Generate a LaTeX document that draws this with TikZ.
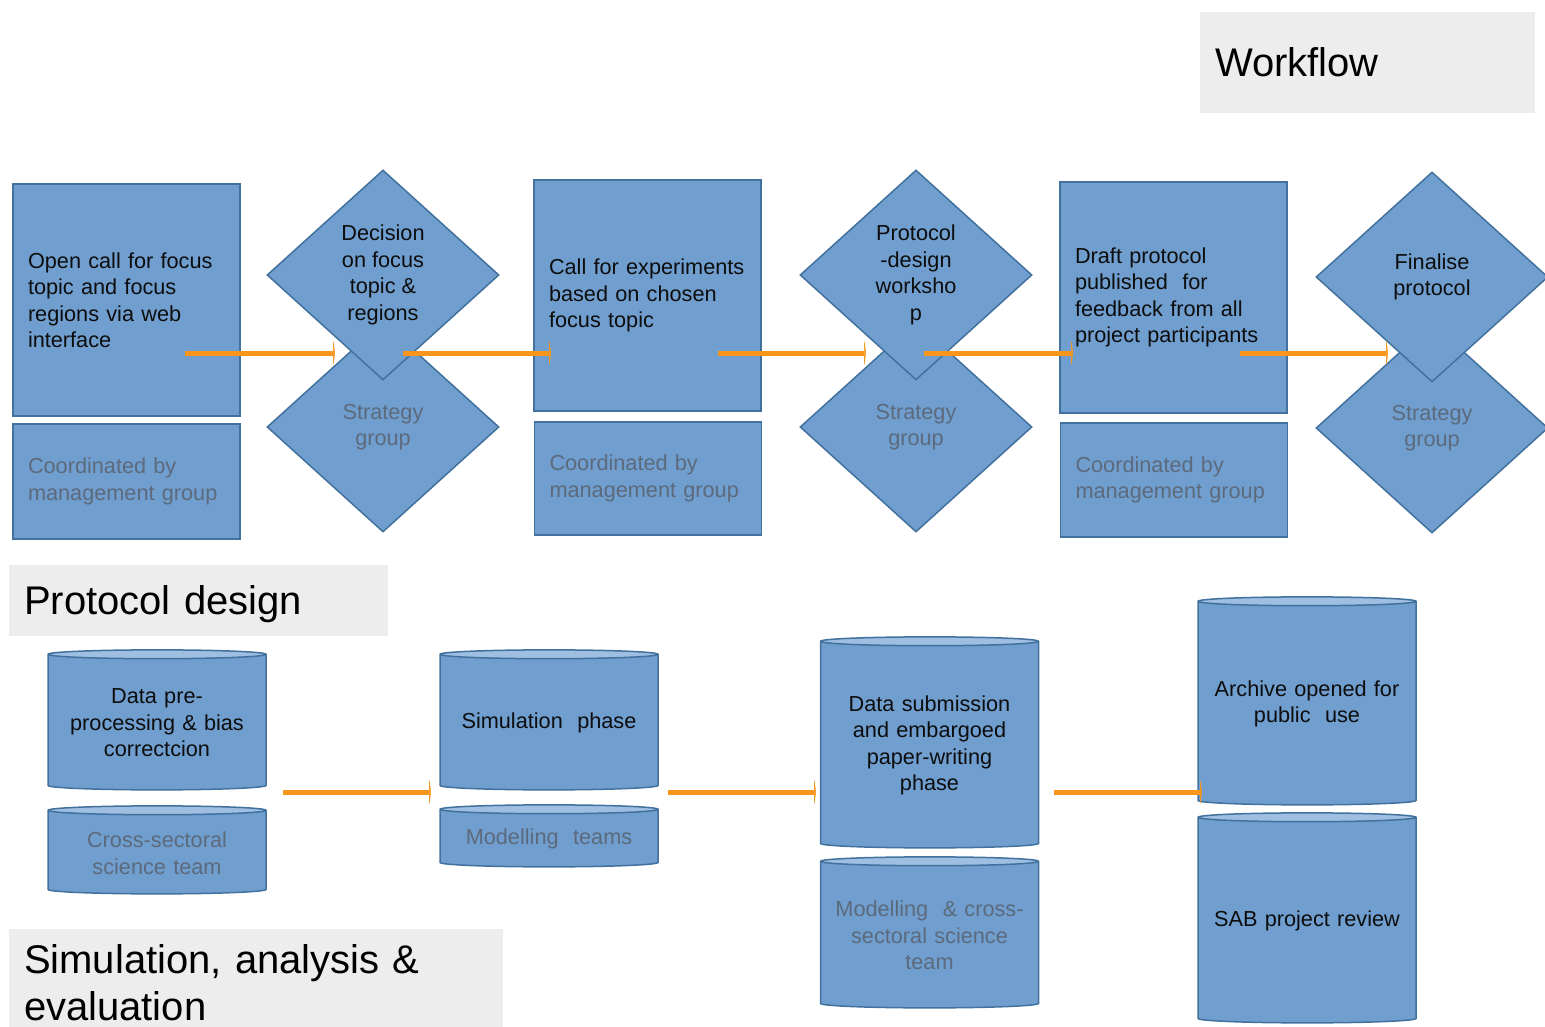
\documentclass[tikz,border=0pt]{standalone}
\usepackage{fontspec}
\setmainfont{Liberation Sans}
\usetikzlibrary{positioning,shapes,arrows.meta}
\definecolor{azul}{RGB}{112,158,207}
\definecolor{azulclaro}{RGB}{158,190,226}
\definecolor{borde}{RGB}{65,113,156}
\definecolor{naranja}{RGB}{248,150,28}
\definecolor{gristexto}{RGB}{92,106,124}
\definecolor{grisfondo}{RGB}{237,237,237}

\begin{document}
\begin{tikzpicture}[x=1pt, y=-1pt, semithick,
        texto/.style = {font=\fontsize{21.7}{26.5}\selectfont, text=black!95},
        main/.style = {texto, draw=borde, line width=1.5pt, fill=azul, rectangle, minimum width=227pt, text width=197pt, inner xsep=15pt, align=left},
        rombo/.style = {texto, draw=borde, line width=1.5pt, fill=azul, diamond, minimum width=232pt, minimum height=210pt, inner sep=0pt, align=center},
        cilindro/.style = {texto, draw=borde, line width=1.5pt, cylinder, shape border rotate=90, aspect=0.045, cylinder uses custom fill, cylinder body fill=azul, cylinder end fill=azulclaro, minimum width=218pt, text width=190pt, align=center},
        gris/.style = {text=gristexto},
        titulo/.style = {fill=grisfondo, font=\fontsize{40}{47}\selectfont, align=left, inner xsep=15pt},
        flecha/.style = {draw=naranja, line width=5pt, -{Triangle[length=2pt, width=30pt]}}]

        \useasboundingbox (0,0) rectangle (1545,1027);

        % titulos
        \node[titulo, minimum width=335pt, minimum height=101pt, text width=305pt] (t1) at (1367.5,62.5) {Workflow};
        \node[titulo, minimum width=379pt, minimum height=71pt, text width=349pt, text depth=0pt] (t2) at (198.5,600.5) {Protocol design};
        \node[titulo, minimum width=494pt, minimum height=108pt, text width=464pt] (t3) at (256,983) {Simulation, analysis \&\\ evaluation};

        % fila de arriba
        \node[main, minimum height=232pt] (1) at (126.5,300) {Open call for focus\\ topic and focus\\ regions via web\\ interface};
        \node[main, gris, minimum height=115pt] (2) at (126.5,481.5) {Coordinated by\\ management group};

        \node[rombo, gris] (4) at (383,427) {Strategy\\ group};
        \node[rombo] (3) at (383,275) {Decision\\ on focus\\ topic \&\\ regions};

        \node[main, minimum height=231pt] (5) at (647.5,295.5) {Call for experiments\\ based on chosen\\ focus topic};
        \node[main, gris, minimum height=113pt] (6) at (648,478.5) {Coordinated by\\ management group};

        \node[rombo, gris] (8) at (916,427) {Strategy\\ group};
        \node[rombo] (7) at (916,275) {Protocol\\ -design\\ worksho\\ p};

        \node[main, minimum height=231pt] (9) at (1173.5,297.5) {Draft protocol\\ published\ \ for\\ feedback from all\\ project participants};
        \node[main, gris, minimum height=114pt] (10) at (1174,480) {Coordinated by\\ management group};

        \node[rombo, gris] (12) at (1432,428) {Strategy\\ group};
        \node[rombo] (11) at (1432,277) {Finalise\\ protocol};

        % fila de abajo
        \node[cilindro, minimum height=140pt] (13) at (157,723) {Data pre-\\ processing \& bias\\ correctcion};
        \node[cilindro, gris, minimum height=88pt] (14) at (157,853) {Cross-sectoral\\ science team};

        \node[cilindro, minimum height=140pt] (15) at (549,723) {Simulation\ \ phase};
        \node[cilindro, gris, minimum height=62pt] (16) at (549,839) {Modelling\ \ teams};

        \node[cilindro, minimum height=211pt] (17) at (929.5,745.5) {Data submission\\ and embargoed\\ paper-writing\\ phase};
        \node[cilindro, gris, minimum height=151pt] (18) at (929.5,935.5) {Modelling\ \ \& cross-\\ sectoral science\\ team};

        \node[cilindro, minimum height=208pt] (19) at (1307,704) {Archive opened for\\ public\ \ use};
        \node[cilindro, minimum height=210pt] (20) at (1307,921) {SAB project review};

        % flechas
        \coordinate (a1) at (185,353);  \coordinate (b1) at (335,353);
        \coordinate (a2) at (403,353);  \coordinate (b2) at (551,353);
        \coordinate (a3) at (718,353);  \coordinate (b3) at (866,353);
        \coordinate (a4) at (924,353);  \coordinate (b4) at (1073,353);
        \coordinate (a5) at (1240,353); \coordinate (b5) at (1388,353);
        \coordinate (a6) at (283,792);  \coordinate (b6) at (431,792);
        \coordinate (a7) at (668,792);  \coordinate (b7) at (816,792);
        \coordinate (a8) at (1054,792); \coordinate (b8) at (1202,792);

        \draw[flecha] (a1) -- (b1);
        \draw[flecha] (a2) -- (b2);
        \draw[flecha] (a3) -- (b3);
        \draw[flecha] (a4) -- (b4);
        \draw[flecha] (a5) -- (b5);
        \draw[flecha] (a6) -- (b6);
        \draw[flecha] (a7) -- (b7);
        \draw[flecha] (a8) -- (b8);
\end{tikzpicture}
\end{document}
